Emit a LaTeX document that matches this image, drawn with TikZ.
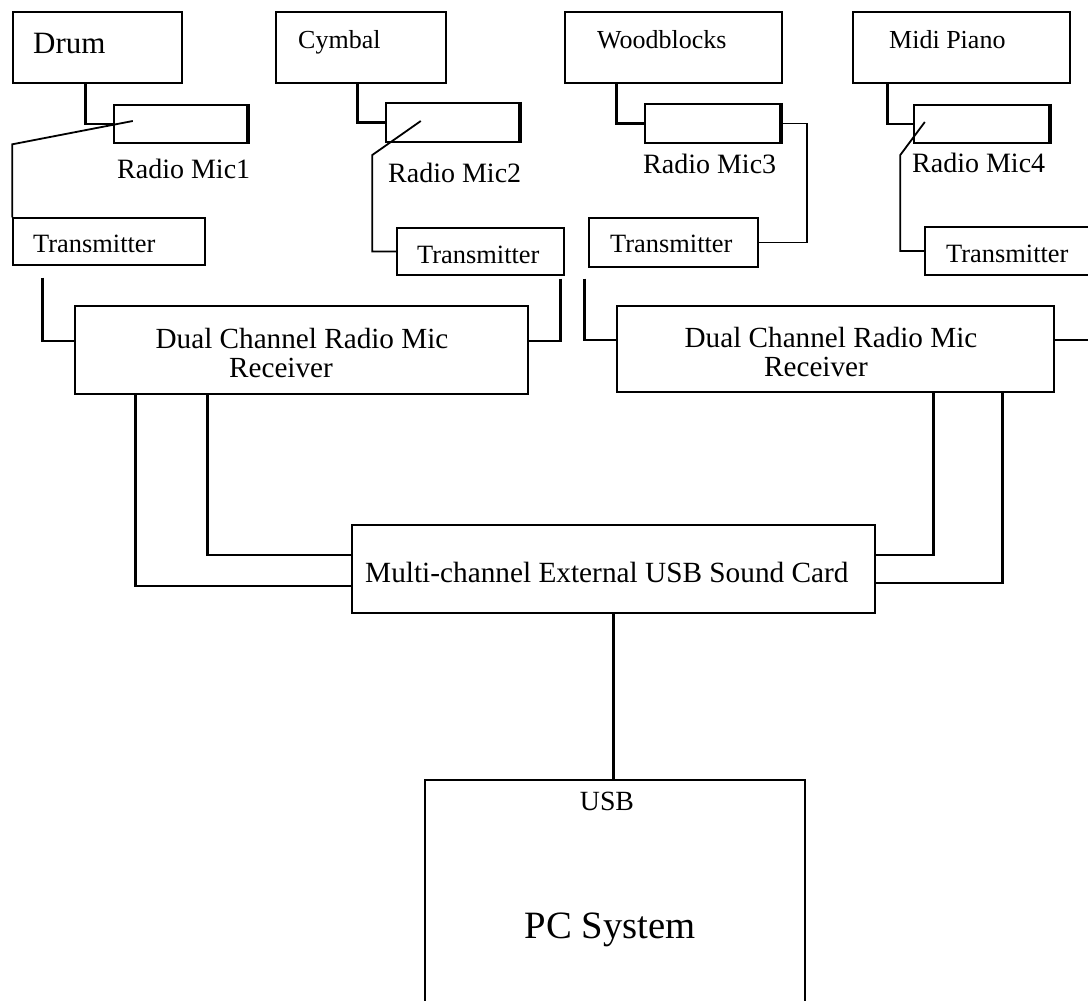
\documentclass[tikz,border=0pt]{standalone}
\usepackage{fontspec}
\setmainfont{Liberation Serif}
\usetikzlibrary{calc}
\newcommand\tsz[1]{\fontsize{#1pt}{#1pt}\selectfont}

\begin{document}
\begin{tikzpicture}[x=1pt,y=-1pt,
  box/.style={draw, line width=1.4pt, inner sep=0pt},
  micbox/.style={draw, line width=2.4pt, inner sep=0pt},
  wire/.style={line width=2.8pt, line join=miter},
  thinwire/.style={line width=1.8pt, line join=miter},
  lbl/.style={inner sep=0pt, anchor=base west},
  clbl/.style={inner sep=0pt, anchor=base}]

\useasboundingbox (0,0) rectangle (1088,1001);
\clip (0,0) rectangle (1088,1001);

% instruments
\node[box, minimum width=169pt, minimum height=71pt] (drum) at (97.5,47.5) {};
\node[box, minimum width=170pt, minimum height=71pt] (cymbal) at (361,47.5) {};
\node[box, minimum width=217pt, minimum height=71pt] (wood) at (673.5,47.5) {};
\node[box, minimum width=217pt, minimum height=71pt] (midi) at (961.5,47.5) {};

\node[lbl, font=\tsz{31}] (drumtxt) at (33,53) {Drum};
\node[lbl, font=\tsz{26}] (cymbaltxt) at (298,48) {Cymbal};
\node[lbl, font=\tsz{26}] (woodtxt) at (597,48) {Woodblocks};
\node[lbl, font=\tsz{26}] (miditxt) at (889,48) {Midi Piano};

% radio microphones
\node[micbox, minimum width=133pt, minimum height=38pt] (mic1) at (180.5,124) {};
\node[micbox, minimum width=133pt, minimum height=39pt] (mic2) at (452.5,122.5) {};
\node[micbox, minimum width=135pt, minimum height=39pt] (mic3) at (712.5,123.5) {};
\node[micbox, minimum width=135pt, minimum height=38pt] (mic4) at (981.5,124) {};
\foreach \m in {mic1,mic2,mic3,mic4}
  \draw[line width=4pt] (\m.north east) -- (\m.south east);

\node[lbl, font=\tsz{28}] (mic1txt) at (117,178) {Radio Mic1};
\node[lbl, font=\tsz{28}] (mic2txt) at (388,182) {Radio Mic2};
\node[lbl, font=\tsz{28}] (mic3txt) at (643,173) {Radio Mic3};
\node[lbl, font=\tsz{28}] (mic4txt) at (912,172) {Radio Mic4};

% transmitters
\node[box, minimum width=192pt, minimum height=47pt] (tx1) at (109,241.5) {};
\node[box, minimum width=167pt, minimum height=47pt] (tx2) at (480.5,251.5) {};
\node[box, minimum width=169pt, minimum height=49pt] (tx3) at (673.5,242.5) {};
\node[box, minimum width=185pt, minimum height=48pt] (tx4) at (1017.5,251) {};

\node[lbl, font=\tsz{26.4}] (tx1txt) at (33,252) {Transmitter};
\node[lbl, font=\tsz{26.4}] (tx2txt) at (417,263) {Transmitter};
\node[lbl, font=\tsz{26.4}] (tx3txt) at (610,252) {Transmitter};
\node[lbl, font=\tsz{26.4}] (tx4txt) at (946,262) {Transmitter};

% receivers
\node[box, minimum width=453pt, minimum height=88pt] (rx1) at (301.5,350) {};
\node[box, minimum width=437pt, minimum height=86pt] (rx2) at (835.5,349) {};
\node[clbl, font=\tsz{29.2}] (rx1a) at (302,348) {Dual Channel Radio Mic};
\node[clbl, font=\tsz{29.2}] (rx1b) at (281,377) {Receiver};
\node[clbl, font=\tsz{29.2}] (rx2a) at (831,347) {Dual Channel Radio Mic};
\node[clbl, font=\tsz{29.2}] (rx2b) at (816,376) {Receiver};

% sound card and computer
\node[box, minimum width=523pt, minimum height=88pt] (card) at (613.5,569) {};
\node[lbl, font=\tsz{29.3}] (cardtxt) at (365,582) {Multi-channel External USB Sound Card};
\node[box, minimum width=380pt, minimum height=232pt] (pc) at (615,896) {};
\node[clbl, font=\tsz{27.8}] (usbtxt) at (607,810) {USB};
\node[clbl, font=\tsz{38.7}] (pctxt) at (610,938) {PC System};

% instrument to microphone leads
\draw[wire] ($(drum.south west)+(73,0)$) |- (mic1.west);
\draw[wire] ($(cymbal.south west)+(82,0)$) |- (mic2.west);
\draw[wire] ($(wood.south west)+(52,0)$) |- (mic3.west);
\draw[wire] ($(midi.south west)+(35,0)$) |- (mic4.west);

% microphone to transmitter leads
\draw[thinwire] ($(mic1.west)+(20,-3)$) -- ($(tx1.north west)+(0,-73)$) -- (tx1.north west);
\draw[thinwire] ($(mic2.west)+(36,-1.5)$) -- ($(tx2.west)+(-24,-96.5)$) -- ($(tx2.west)+(-24,0)$) -- (tx2.west);
\draw[thinwire] (mic3.east) -- ++(26,0) |- (tx3.east);
\draw[thinwire] ($(mic4.west)+(12,-2)$) -- ($(tx4.west)+(-24,-96)$) -- ($(tx4.west)+(-24,0)$) -- (tx4.west);

% transmitter to receiver leads
\draw[wire] ($(tx1.south west)+(30,12)$) |- ($(rx1.west)+(0,-9)$);
\draw[wire] ($(tx2.south east)+(-4,3)$) |- ($(rx1.east)+(0,-9)$);
\draw[wire] ($(tx3.south west)+(-4,11)$) |- ($(rx2.west)+(0,-9)$);
\draw[wire] ($(rx2.east)+(0,-9)$) -| ($(tx4.south east)+(-10,3)$);

% receiver to sound card leads
\draw[wire] ($(rx1.south west)+(133,0)$) |- ($(card.west)+(0,-14)$);
\draw[wire] ($(rx1.south west)+(61,0)$) |- ($(card.west)+(0,17)$);
\draw[wire] ($(rx2.south west)+(317,0)$) |- ($(card.east)+(0,-14)$);
\draw[wire] ($(rx2.south west)+(386,0)$) |- ($(card.east)+(0,14)$);

% sound card to computer
\draw[wire] (card.south) -- (card.south |- pc.north);
\end{tikzpicture}
\end{document}
